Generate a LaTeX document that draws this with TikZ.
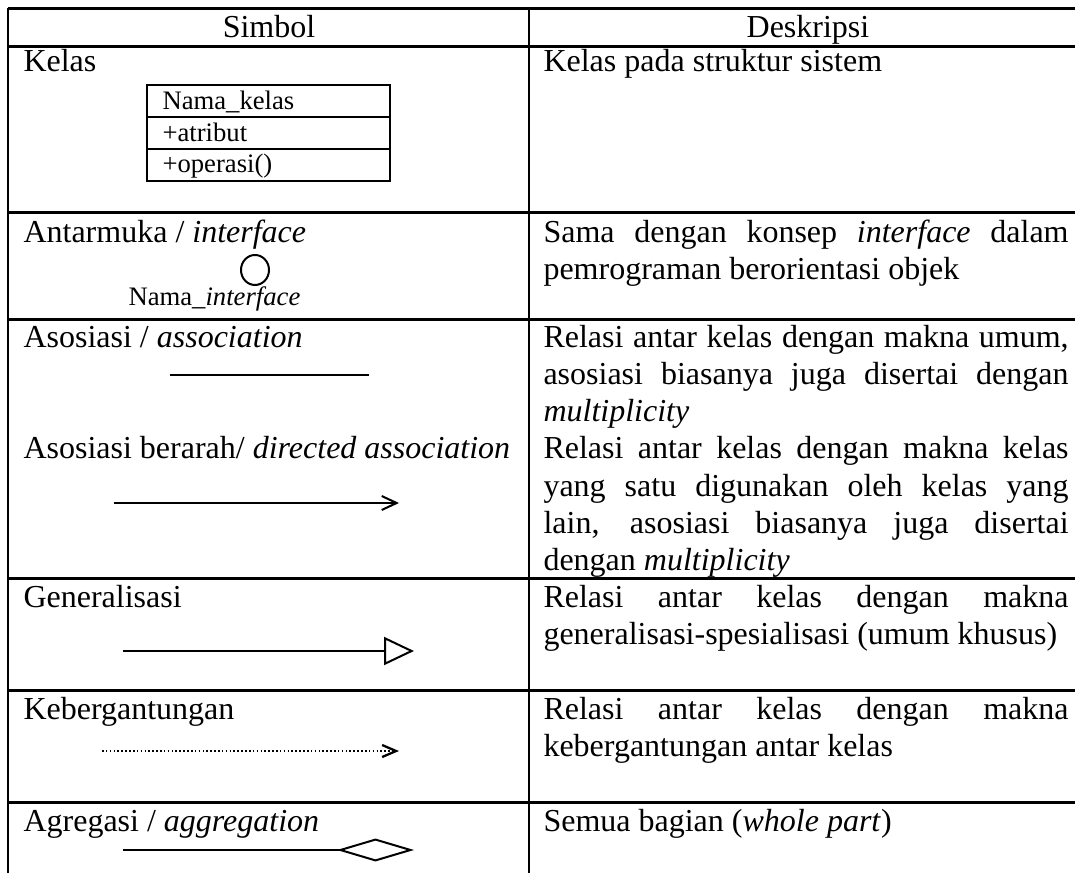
\documentclass[tikz,border=0pt]{standalone}
\usepackage{fontspec}
\setmainfont{Liberation Serif}
\usetikzlibrary{arrows.meta,shapes.geometric}

\newcommand{\bodysize}{\fontsize{12pt}{13.8pt}\selectfont}
\newcommand{\labelsize}{\fontsize{10pt}{11.5pt}\selectfont}
\newlength{\descw}\setlength{\descw}{196.9pt}
% one fully justified line of the description column
\newcommand{\jline}[1]{\makebox[\descw][s]{#1}}

\begin{document}
\begin{tikzpicture}[x=0.375pt,y=-0.375pt,
  rule/.style={line width=0.8pt},
  sym/.style={line width=0.75pt},
  txt/.style={inner sep=0pt,anchor=base west,font=\bodysize},
  headtxt/.style={inner sep=0pt,anchor=base,font=\bodysize},
  lbl/.style={inner sep=0pt,anchor=base west,font=\labelsize}]
\useasboundingbox (0,0) rectangle (1075,873);
\clip (0,0) rectangle (1075,873);

% ---------- table rules ----------
\draw[rule] (8,8.5) -- (1090,8.5);
\foreach \y in {46.5,212.5,319.5,578.5,690.5,802.5}
  \draw[rule] (8,\y) -- (1090,\y);
\draw[rule] (8,8) -- (8,880);
\draw[rule] (529,8) -- (529,880);

% ---------- header ----------
\node[headtxt] (hsim) at (269,38) {Simbol};
\node[headtxt] (hdes) at (808,38) {Deskripsi};

% ---------- class ----------
\node[txt] (kelas) at (23,72) {Kelas};
\node[txt] (dkelas) at (543,72) {Kelas pada struktur sistem};
\node[draw,sym,inner sep=0pt,minimum width=91.1pt,minimum height=36pt] (cbox) at (268.5,133) {};
\draw[sym] (cbox.west |- 0,117) -- (cbox.east |- 0,117);
\draw[sym] (cbox.west |- 0,149) -- (cbox.east |- 0,149);
\node[lbl] (cnama) at (162,110) {Nama\_kelas};
\node[lbl] (cattr) at (162,142) {+atribut};
\node[lbl] (cop) at (162,173) {+operasi()};

% ---------- interface ----------
\node[txt] (antar) at (23,243) {Antarmuka / \textit{interface}};
\node[draw,sym,ellipse,inner sep=0pt,minimum width=10.5pt,minimum height=11.25pt] (iface) at (255,270) {};
\node[lbl] (iname) at (128,306) {Nama\_\textit{interface}};
\node[txt] (dant1) at (543,243) {\jline{Sama dengan konsep \textit{interface} dalam}};
\node[txt] (dant2) at (543,280) {pemrograman berorientasi objek};

% ---------- association / directed association ----------
\node[txt] (asos) at (23,348) {Asosiasi / \textit{association}};
\coordinate (asA) at (170,375);
\coordinate (asB) at (369,375);
\draw[sym] (asA) -- (asB);
\node[txt] (asosb) at (23,459) {Asosiasi berarah/ \textit{directed association}};
\coordinate (daA) at (114,503);
\coordinate (daB) at (399,503);
\draw[sym,-{Straight Barb[length=5.6pt,width=5.25pt]}] (daA) -- (daB);

\node[txt] (das1) at (543,348) {\jline{Relasi antar kelas dengan makna umum,}};
\node[txt] (das2) at (543,385) {\jline{asosiasi biasanya juga disertai dengan}};
\node[txt] (das3) at (543,422) {\textit{multiplicity}};
\node[txt] (das4) at (543,459) {\jline{Relasi antar kelas dengan makna kelas}};
\node[txt] (das5) at (543,496) {\jline{yang satu digunakan oleh kelas yang}};
\node[txt] (das6) at (543,533) {\jline{lain, asosiasi biasanya juga disertai}};
\node[txt] (das7) at (543,570) {dengan \textit{multiplicity}};

% ---------- generalization ----------
\node[txt] (gen) at (23,607) {Generalisasi};
\coordinate (gA) at (123,651);
\coordinate (gB) at (414,651);
\draw[sym,-{Triangle[open,length=11.25pt,width=10.5pt]}] (gA) -- (gB);
\node[txt] (dgen1) at (543,607) {\jline{Relasi antar kelas dengan makna}};
\node[txt] (dgen2) at (543,644) {generalisasi-spesialisasi (umum khusus)};

% ---------- dependency ----------
\node[txt] (keb) at (23,719) {Kebergantungan};
\coordinate (kA) at (102,751);
\coordinate (kB) at (399,751);
\draw[line width=0.6pt,dash pattern=on 0.6pt off 0.85pt,
      -{Straight Barb[length=5.25pt,width=4.5pt,line width=0.85pt]}] (kA) -- (kB);
\node[txt] (dkeb1) at (543,719) {\jline{Relasi antar kelas dengan makna}};
\node[txt] (dkeb2) at (543,756) {kebergantungan antar kelas};

% ---------- aggregation ----------
\node[txt] (agr) at (23,831) {Agregasi / \textit{aggregation}};
\coordinate (agA) at (123,850);
\coordinate (agB) at (414,850);
\draw[sym,-{Diamond[open,length=28.9pt,width=8.6pt]}] (agA) -- (agB);
\node[txt] (dagr) at (543,831) {Semua bagian (\textit{whole part})};
\end{tikzpicture}
\end{document}
